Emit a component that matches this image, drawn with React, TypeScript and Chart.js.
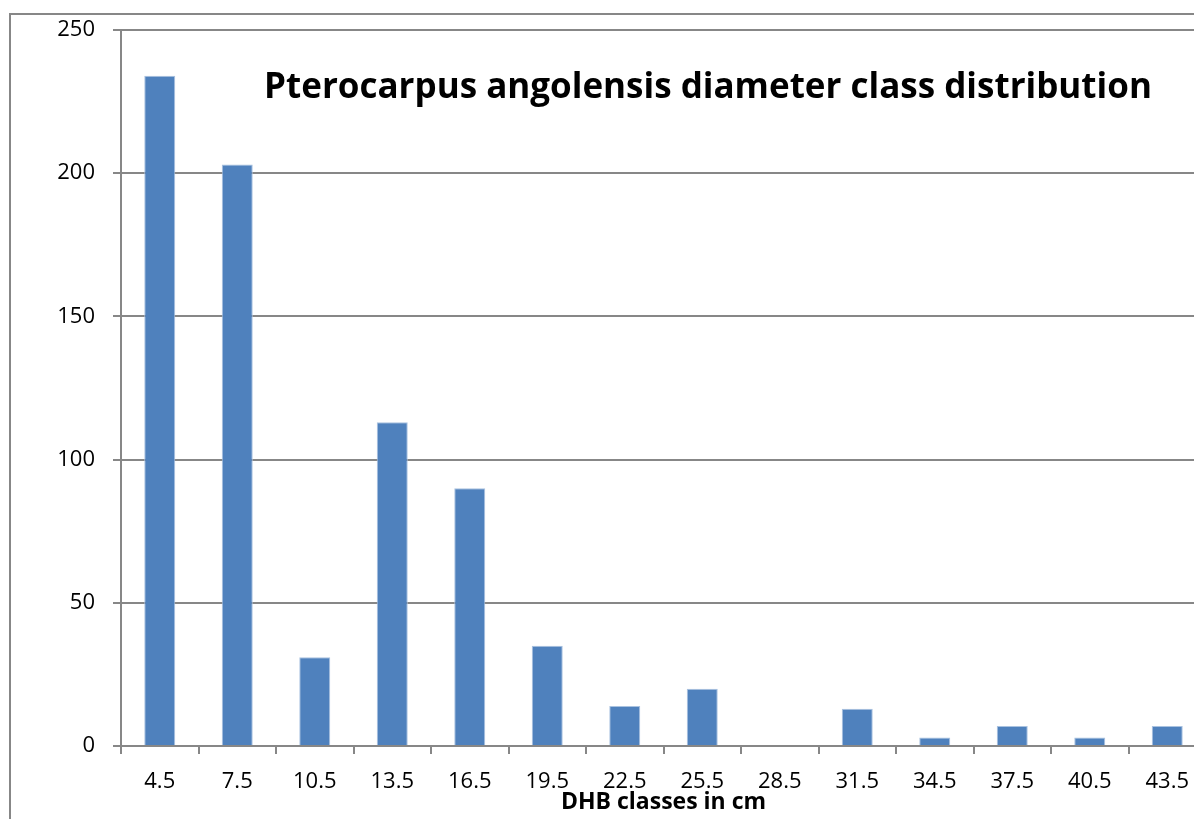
import React, { useEffect, useRef } from "react";
import { Chart, registerables } from "chart.js";

Chart.register(...registerables);

const categories = ["4.5", "7.5", "10.5", "13.5", "16.5", "19.5", "22.5", "25.5", "28.5", "31.5", "34.5", "37.5", "40.5", "43.5"];
const counts = [234, 203, 31, 113, 90, 35, 14, 20, 0, 13, 3, 7, 3, 7];
const yMin = 0;
const yMax = 250;
const yStep = 50;
const chartTitle = "Pterocarpus angolensis diameter class distribution";
const xAxisTitle = "DHB classes in cm";

const GRAY = "#878787";
const FONT = "'Open Sans', 'DejaVu Sans', sans-serif";

const innerTitlePlugin = {
  id: "innerTitle",
  afterDraw(chart: any) {
    const { ctx, chartArea } = chart;
    ctx.save();
    ctx.font = `bold 35px ${FONT}`;
    ctx.fillStyle = "#000000";
    ctx.textAlign = "center";
    ctx.textBaseline = "alphabetic";
    const x = chartArea.left + (chartArea.right - chartArea.left) * 0.541;
    const y = chartArea.top + 68;
    ctx.fillText(chartTitle, x, y);
    ctx.restore();
  },
};

export default function App() {
  const canvasRef = useRef<HTMLCanvasElement | null>(null);

  useEffect(() => {
    const canvas = canvasRef.current;
    if (!canvas) return;
    const chart = new Chart(canvas, {
      type: "bar",
      data: {
        labels: categories,
        datasets: [
          {
            data: counts,
            backgroundColor: "#4F81BD",
            borderColor: "#A9C2E0",
            borderWidth: 1,
            barPercentage: 0.4,
            categoryPercentage: 1.0,
          },
        ],
      },
      options: {
        responsive: false,
        animation: false,
        devicePixelRatio: 1,
        layout: { padding: { left: 0, top: 15, right: 10, bottom: 0 } },
        plugins: {
          legend: { display: false },
          tooltip: { enabled: false },
          title: { display: false },
        },
        scales: {
          x: {
            grid: {
              offset: true,
              drawOnChartArea: false,
              drawTicks: true,
              tickLength: 8,
              color: GRAY,
              lineWidth: 2,
            },
            border: { display: true, color: GRAY, width: 2 },
            ticks: {
              color: "#000000",
              font: { family: FONT, size: 22 },
              padding: 15,
              maxRotation: 0,
              autoSkip: false,
            },
            title: {
              display: true,
              text: xAxisTitle,
              color: "#000000",
              font: { family: FONT, size: 23, weight: "bold" },
              padding: { top: 0, bottom: 3 },
            },
            afterFit(scale: any) {
              scale.height = 73;
              scale.paddingLeft = 0;
              scale.paddingRight = 0;
            },
          },
          y: {
            min: yMin,
            max: yMax,
            grid: {
              color: GRAY,
              lineWidth: 2,
              drawTicks: true,
              tickLength: 8,
            },
            border: { display: true, color: GRAY, width: 2 },
            ticks: {
              stepSize: yStep,
              color: "#000000",
              font: { family: FONT, size: 22 },
              padding: 18,
            },
            afterFit(scale: any) {
              scale.width = 110;
              scale.paddingTop = 0;
              scale.paddingBottom = 0;
            },
          },
        },
      },
      plugins: [innerTitlePlugin],
    });
    return () => chart.destroy();
  }, []);

  return (
    <div
      style={{
        position: "fixed",
        left: 0,
        top: 0,
        width: 1194,
        height: 819,
        overflow: "hidden",
        background: "#ffffff",
      }}
    >
      <div
        style={{
          position: "absolute",
          left: 9,
          top: 13,
          width: 1300,
          height: 900,
          borderLeft: `2px solid ${GRAY}`,
          borderTop: `2px solid ${GRAY}`,
        }}
      />
      <canvas
        ref={canvasRef}
        width={1205}
        height={804}
        style={{ position: "absolute", left: 11, top: 15, width: 1205, height: 804 }}
      />
    </div>
  );
}
